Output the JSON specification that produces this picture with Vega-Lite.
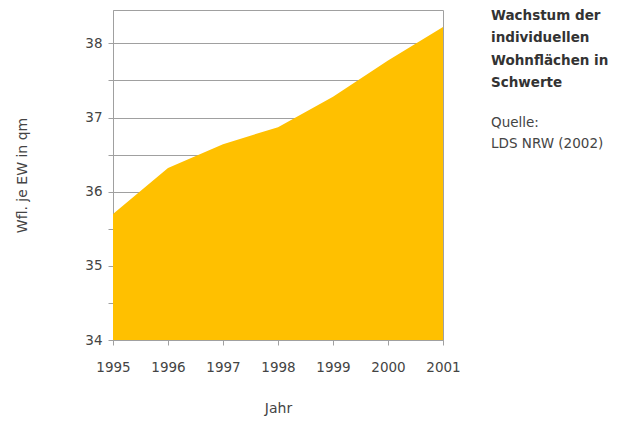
{
  "$schema": "https://vega.github.io/schema/vega-lite/v6.json",
  "width": 330,
  "height": 330,
  "autosize": "none",
  "padding": {"left": 113, "top": 10, "right": 179, "bottom": 81},
  "background": "white",
  "config": {
    "view": {"stroke": "#a0a0a0", "strokeWidth": 1},
    "font": "DejaVu Sans"
  },
  "title": {
    "text": ["Wachstum der", "individuellen", "Wohnflächen in", "Schwerte"],
    "subtitle": ["Quelle:", "LDS NRW (2002)"],
    "anchor": "start",
    "frame": "group",
    "orient": "top",
    "baseline": "top",
    "offset": 0,
    "dx": 378,
    "dy": 140,
    "font": "DejaVu Sans",
    "fontSize": 13.5,
    "fontWeight": "bold",
    "color": "#333333",
    "lineHeight": 22.5,
    "subtitleFont": "DejaVu Sans",
    "subtitleFontSize": 13.5,
    "subtitleColor": "#444444",
    "subtitleLineHeight": 21,
    "subtitlePadding": 26
  },
  "data": {
    "values": [
      {"Jahr": 1995, "Wfl": 35.70},
      {"Jahr": 1996, "Wfl": 36.32},
      {"Jahr": 1997, "Wfl": 36.64},
      {"Jahr": 1998, "Wfl": 36.87},
      {"Jahr": 1999, "Wfl": 37.28},
      {"Jahr": 2000, "Wfl": 37.77},
      {"Jahr": 2001, "Wfl": 38.22}
    ]
  },
  "mark": {"type": "area", "color": "#FFC000", "opacity": 1},
  "encoding": {
    "x": {
      "field": "Jahr",
      "type": "quantitative",
      "scale": {"domain": [1995, 2001], "nice": false, "zero": false},
      "axis": {
        "values": [1995, 1996, 1997, 1998, 1999, 2000, 2001],
        "format": "d",
        "title": "Jahr",
        "grid": false,
        "domainColor": "#a0a0a0",
        "tickColor": "#a0a0a0",
        "tickSize": 5,
        "labelPadding": 15,
        "labelFont": "DejaVu Sans",
        "labelFontSize": 13.5,
        "labelColor": "#444444",
        "labelFlush": false,
        "titleFont": "DejaVu Sans",
        "titleFontSize": 14,
        "titleFontWeight": "normal",
        "titleColor": "#444444",
        "titlePadding": 28
      }
    },
    "y": {
      "field": "Wfl",
      "type": "quantitative",
      "scale": {"domain": [34, 38.45], "nice": false, "zero": false},
      "axis": {
        "values": [34, 34.5, 35, 35.5, 36, 36.5, 37, 37.5, 38],
        "labelExpr": "datum.value % 1 === 0 ? format(datum.value, 'd') : ''",
        "title": "Wfl. je EW in qm",
        "grid": true,
        "gridColor": "#a0a0a0",
        "gridWidth": 1,
        "domainColor": "#a0a0a0",
        "tickColor": "#a0a0a0",
        "tickSize": 5,
        "labelPadding": 6,
        "labelFont": "DejaVu Sans",
        "labelFontSize": 13.5,
        "labelColor": "#444444",
        "labelFlush": false,
        "titleFont": "DejaVu Sans",
        "titleFontSize": 14,
        "titleFontWeight": "normal",
        "titleColor": "#444444",
        "titlePadding": 55
      }
    },
    "y2": {"datum": 34}
  }
}
